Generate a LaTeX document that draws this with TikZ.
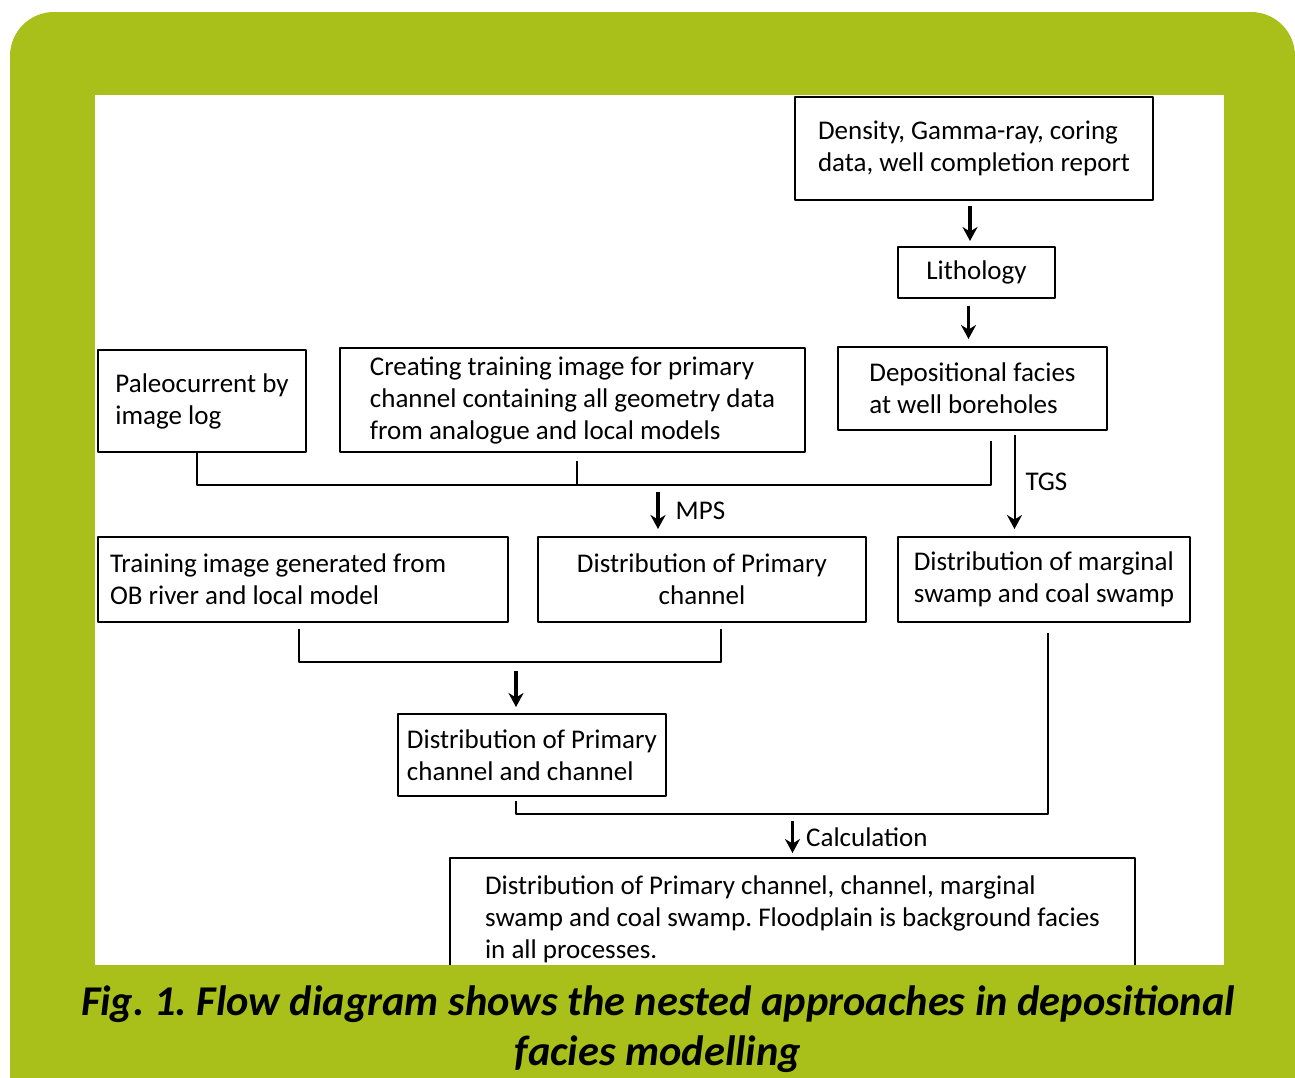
\documentclass[tikz,border=0pt]{standalone}
\usepackage{fontspec}
\setmainfont{Carlito}
\usetikzlibrary{arrows.meta}
\definecolor{framegreen}{RGB}{169,192,26}
\frenchspacing
\begin{document}
\begin{tikzpicture}[x=0.5pt, y=-0.5pt, line join=round, >={Stealth[length=7pt,width=7.5pt]}]
	\tikzset{box/.style={draw, line width=1pt, fill=white, inner sep=0pt, align=left, font=\fontsize{13.5}{16}\selectfont},
		flow/.style={->, line width=1.7pt},
		link/.style={line width=1pt},
		tag/.style={font=\fontsize{13.5}{16}\selectfont, inner sep=0pt}}
	\useasboundingbox (0,0) rectangle (1295,1077);
	\begin{scope}
		\clip (0,0) rectangle (1295,1077);
		\fill[framegreen, rounded corners=22pt] (10,12) rectangle (1295,1140);
	\end{scope}
	\fill[white] (95,95) rectangle (1224,965);
	\node[box, minimum width=179pt, minimum height=51.5pt] (dens) at (974,148.5) {Density, Gamma-ray, coring\\data, well completion report};
	\node[box, minimum width=78.5pt, minimum height=25.5pt] (lith) at (976.5,272.5) {Lithology};
	\node[box, minimum width=134.5pt, minimum height=41.5pt] (depo) at (972.5,388.5) {Depositional facies\\at well boreholes};
	\node[box, minimum width=104pt, minimum height=51pt] (paleo) at (202,401) {Paleocurrent by\\image log};
	\node[box, minimum width=232.5pt, minimum height=52pt] (creat) at (572.5,400) {Creating training image for primary\\channel containing all geometry data\\from analogue and local models};
	\node[box, align=flush left, inner xsep=6pt, text width=193pt, minimum height=42.5pt] (train) at (303,579.5) {Training image generated from\\OB river and local model};
	\node[box, align=center, minimum width=164pt, minimum height=42.5pt] (dprim) at (702,579.5) {Distribution of Primary\\channel};
	\node[box, minimum width=146pt, minimum height=42.5pt] (dmarg) at (1044,579.5) {Distribution of marginal\\swamp and coal swamp};
	\node[box, minimum width=134pt, minimum height=41pt] (dpc) at (532,755) {Distribution of Primary\\channel and channel};
	\node[box, minimum width=342.5pt, minimum height=61pt] (final) at (792.5,919) {Distribution of Primary channel, channel, marginal\\swamp and coal swamp. Floodplain is background facies\\in all processes.};
	\coordinate (j1) at (0,485);
	\coordinate (j2) at (0,662);
	\coordinate (j3) at (0,814);
	\draw[flow] ([xshift=-2pt,yshift=-2.5pt]dens.south) -- ([xshift=-2pt,yshift=2.5pt]dens.south |- lith.north);
	\draw[flow] ([xshift=-4pt,yshift=-3.5pt]lith.south) -- ([xshift=-4pt,yshift=3.5pt]lith.south |- depo.north);
	\draw[link] ([xshift=-2.5pt]paleo.south) |- ([xshift=9pt]depo.south |- j1) -- ([xshift=9pt,yshift=-5pt]depo.south);
	\draw[link] ([xshift=2pt,yshift=-4pt]creat.south) -- ([xshift=2pt]creat.south |- j1);
	\draw[flow] ([xshift=-22pt,yshift=22pt]dprim.north) -- node[tag, right=8pt]{MPS} ([xshift=-22pt,yshift=3.5pt]dprim.north);
	\draw[flow, line width=1pt] ([xshift=21pt,yshift=-2pt]depo.south) -- node[tag, right=5pt]{TGS} ([xshift=21pt,yshift=3.5pt]depo.south |- dmarg.north);
	\draw[link] ([xshift=-2pt,yshift=-3pt]train.south) |- ([xshift=9.5pt]dprim.south |- j2) -- ([xshift=9.5pt,yshift=-3pt]dprim.south);
	\draw[flow] ([xshift=-8pt,yshift=21pt]dpc.north) -- ([xshift=-8pt,yshift=3pt]dpc.north);
	\draw[link] ([xshift=-8pt,yshift=-2pt]dpc.south) |- ([xshift=2pt]dmarg.south |- j3) -- ([xshift=2pt,yshift=-5pt]dmarg.south);
	\draw[flow] ([yshift=18pt]final.north) -- node[tag, right=6pt]{Calculation} ([yshift=2pt]final.north);
	\fill[framegreen] (10,965) rectangle (1295,1077);
	\node[font=\fontsize{21.2}{25}\selectfont\bfseries\itshape, align=center] (cap) at (658,1029) {Fig. 1. Flow diagram shows the nested approaches in depositional\\facies modelling};
\end{tikzpicture}
\end{document}
